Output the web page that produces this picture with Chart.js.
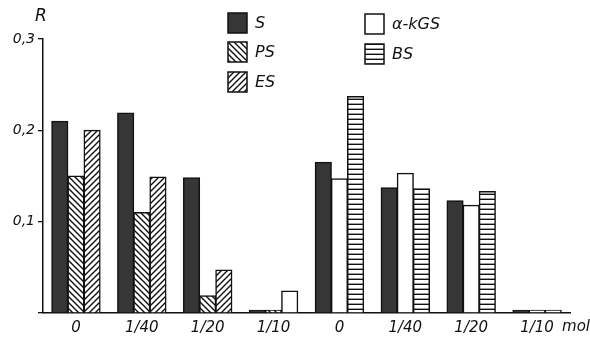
<!DOCTYPE html>
<html><head><meta charset="utf-8">
<script src="https://cdn.jsdelivr.net/npm/chart.js@4/dist/chart.umd.min.js"></script>
<style>html,body{margin:0;padding:0;background:#fff}#wrap{width:590px;height:345px}</style>
</head><body><div id="wrap"><canvas id="c" width="590" height="345"></canvas></div>
<script>
const categories = ['0', '1/40', '1/20', '1/10', '0', '1/40', '1/20', '1/10'];
const seriesS    = [0.210, 0.219, 0.148, 0.003, 0.165, 0.137, 0.123, 0.003];
const seriesPS   = [0.150, 0.110, 0.019, 0.003, null, null, null, null];
const seriesES   = [0.200, 0.149, 0.047, null, null, null, null, null];
const seriesAKGS = [null, null, null, 0.024, 0.147, 0.153, 0.118, 0.003];
const seriesBS   = [null, null, null, null, 0.237, 0.136, 0.133, 0.003];
const yTicks = ['0,1', '0,2', '0,3'];
const unitLabel = 'mol';
const axisTitle = 'R';

function makePattern(kind) {
  const s = kind === 'h' ? 5 : 6;
  const c = document.createElement('canvas');
  c.width = s; c.height = s;
  const g = c.getContext('2d');
  g.fillStyle = '#fff'; g.fillRect(0, 0, s, s);
  g.strokeStyle = '#111'; g.lineWidth = 1.4;
  g.beginPath();
  if (kind === 'back') {       // "\" lines
    g.moveTo(-1, -1); g.lineTo(s + 1, s + 1);
    g.moveTo(-1, s - 1); g.lineTo(1, s + 1);
    g.moveTo(s - 1, -1); g.lineTo(s + 1, 1);
  } else if (kind === 'fwd') { // "/" lines
    g.moveTo(-1, s + 1); g.lineTo(s + 1, -1);
    g.moveTo(-1, 1); g.lineTo(1, -1);
    g.moveTo(s - 1, s + 1); g.lineTo(s + 1, s - 1);
  } else {                     // horizontal
    g.moveTo(0, s - 0.7); g.lineTo(s, s - 0.7);
  }
  g.stroke();
  return g.createPattern(c, 'repeat');
}
const fills = {
  S: '#363636',
  PS: makePattern('back'),
  ES: makePattern('fwd'),
  AK: '#ffffff',
  BS: makePattern('h')
};

const FONT = "'DejaVu Sans', 'Liberation Sans', sans-serif";

const common = { borderColor: '#111', borderWidth: 1.5, skipNull: true, borderSkipped: 'bottom', inflateAmount: 0.5 };

const legendLayout = [
  { ds: 0, x: 228, y: 13 }, { ds: 1, x: 228, y: 42 }, { ds: 2, x: 228, y: 72 },
  { ds: 3, x: 365, y: 14 }, { ds: 4, x: 365, y: 44 }
];

const extras = {
  id: 'extras',
  afterDraw(chart) {
    const ctx = chart.ctx;
    const xs = chart.scales.x, ys = chart.scales.y;
    ctx.save();
    ctx.fillStyle = '#111';
    ctx.font = "italic 17px " + FONT;
    ctx.textBaseline = 'middle';
    ctx.textAlign = 'center';
    ctx.fillText(axisTitle, ys.right - 2, 17);
    ctx.font = "italic 15px " + FONT;
    ctx.textAlign = 'left';
    ctx.fillText(unitLabel, xs.getPixelForValue(categories.length - 1) + 25, xs.top + 14);
    legendLayout.forEach(it => {
      const d = chart.data.datasets[it.ds];
      ctx.fillStyle = d.backgroundColor;
      ctx.fillRect(it.x, it.y, 19, 20);
      ctx.strokeStyle = '#111'; ctx.lineWidth = 1.5;
      ctx.strokeRect(it.x, it.y, 19, 20);
      ctx.fillStyle = '#111';
      ctx.font = "italic 16px " + FONT;
      ctx.textAlign = 'left';
      ctx.fillText(d.label, it.x + 27, it.y + 11);
    });
    ctx.restore();
  }
};

new Chart(document.getElementById('c'), {
  type: 'bar',
  data: {
    labels: categories,
    datasets: [
      { label: 'S', data: seriesS, backgroundColor: fills.S, ...common },
      { label: 'PS', data: seriesPS, backgroundColor: fills.PS, ...common },
      { label: 'ES', data: seriesES, backgroundColor: fills.ES, ...common },
      { label: 'α-kGS', data: seriesAKGS, backgroundColor: fills.AK, ...common },
      { label: 'BS', data: seriesBS, backgroundColor: fills.BS, ...common }
    ]
  },
  options: {
    responsive: false,
    animation: false,
    devicePixelRatio: 1,
    layout: { padding: { top: 39, right: 20, left: 0, bottom: 0 } },
    datasets: { bar: { barPercentage: 1.0, categoryPercentage: 0.735 } },
    plugins: { legend: { display: false }, tooltip: { enabled: false } },
    scales: {
      x: {
        afterFit(s) { s.height = 32; },
        grid: { display: true, drawOnChartArea: false, drawTicks: false },
        border: { display: true, color: '#111', width: 1.5 },
        ticks: { color: '#111', padding: 6, font: { family: FONT, style: 'italic', size: 15 }, maxRotation: 0, autoSkip: false }
      },
      y: {
        min: 0, max: 0.3,
        afterFit(s) { s.width = 43; },
        afterBuildTicks(s) { s.ticks = [0, 0.1, 0.2, 0.3].map(v => ({ value: v })); },
        grid: { display: true, drawOnChartArea: false, drawTicks: true, tickLength: 5, color: '#111', lineWidth: 1.3 },
        border: { display: true, color: '#111', width: 1.5 },
        ticks: {
          color: '#111', padding: 3,
          font: { family: FONT, style: 'italic', size: 14 },
          callback(v) { const i = Math.round(v * 10); return i === 0 ? '' : yTicks[i - 1]; }
        }
      }
    }
  },
  plugins: [extras]
});
</script>
</body></html>
